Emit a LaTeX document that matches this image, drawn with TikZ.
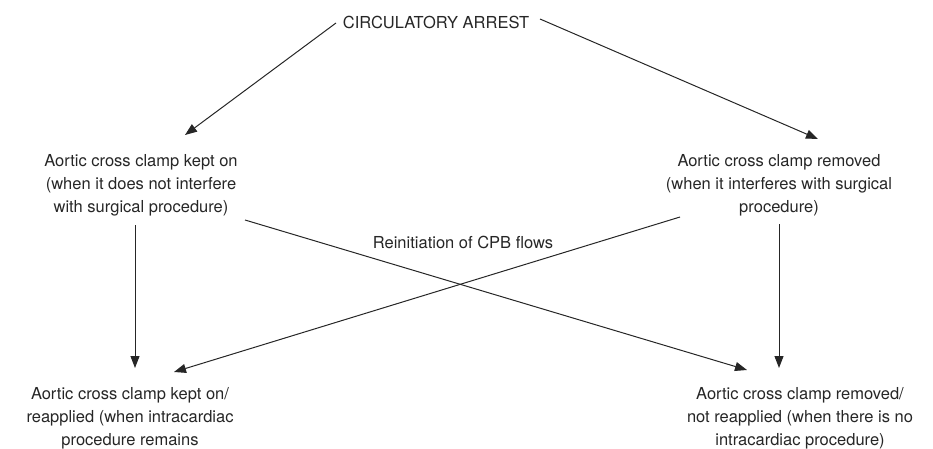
\documentclass[tikz,border=0pt]{standalone}
\usepackage{fontspec}
\setmainfont{TeX Gyre Heros}
\usepackage{tikz}
\usetikzlibrary{arrows.meta}
\usetikzlibrary{calc}

\tikzset{
  txt/.style={align=center, inner sep=0pt, font=\fontsize{16.5}{23}\selectfont, text=black!85},
  flow/.style={line width=1pt, black!85, -{Triangle[length=12pt,width=9pt]}}
}

\begin{document}
\begin{tikzpicture}[x=1pt,y=-1pt]
    \useasboundingbox (0,0) rectangle (933,449);
    % nodes
    \node[txt] (arrest) at (436,22) {CIRCULATORY ARREST};
    \node[txt] (kepton) at (141,185) {Aortic cross clamp kept on\\(when it does not interfere\\with surgical procedure)};
    \node[txt] (removed) at (779,185) {Aortic cross clamp removed\\(when it interferes with surgical\\procedure)};
    \node[txt] (keptre) at (130,418) {Aortic cross clamp kept on/\\reapplied (when intracardiac\\procedure remains};
    \node[txt] (removedno) at (800,418) {Aortic cross clamp removed/\\not reapplied (when there is no\\intracardiac procedure)};
    \node[txt] (reinit) at (463,242) {Reinitiation of CPB flows};
    % arrows
    \draw[flow] ($(arrest)+(-100,1)$) -- ($(kepton)+(44,-50)$);
    \draw[flow] ($(arrest)+(104,-3)$) -- ($(removed)+(39,-46)$);
    \draw[flow] ($(kepton)+(-6,40)$) -- ($(keptre)+(5,-50)$);
    \draw[flow] ($(removed)+(0,39)$) -- ($(removedno)+(-21,-50)$);
    \draw[flow] ($(kepton)+(104,35)$) -- ($(removedno)+(-53,-48)$);
    \draw[flow] ($(removed)+(-99,32)$) -- ($(keptre)+(44,-46)$);
\end{tikzpicture}
\end{document}
